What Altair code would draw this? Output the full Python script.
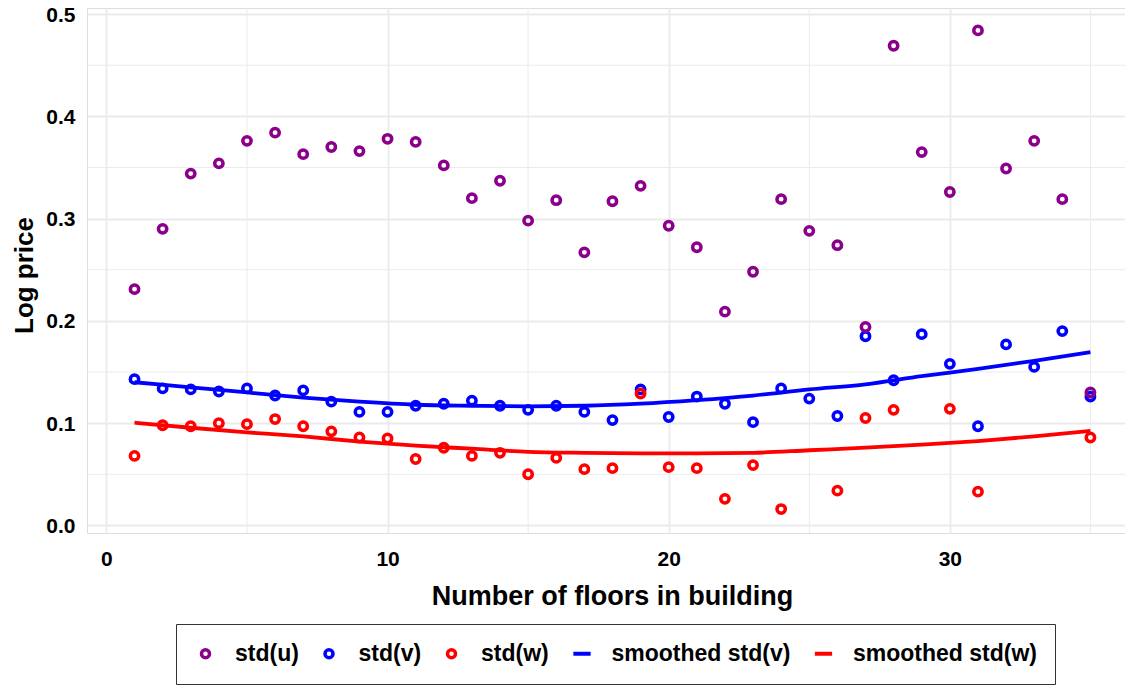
import altair as alt
import pandas as pd

# ---------------- data ----------------
floors = list(range(1, 36))
std_u = [0.231, 0.290, 0.344, 0.354, 0.376, 0.384, 0.363, 0.370, 0.366, 0.378,
         0.375, 0.352, 0.320, 0.337, 0.298, 0.318, 0.267, 0.317, 0.332, 0.293,
         0.272, 0.209, 0.248, 0.319, 0.288, 0.274, 0.194, 0.469, 0.365, 0.326,
         0.484, 0.349, 0.376, 0.319, 0.130]
std_v = [0.143, 0.134, 0.133, 0.131, 0.134, 0.127, 0.132, 0.121, 0.111, 0.111,
         0.117, 0.119, 0.122, 0.117, 0.113, 0.117, 0.111, 0.103, 0.133, 0.106,
         0.126, 0.119, 0.101, 0.134, 0.124, 0.107, 0.185, 0.142, 0.187, 0.158,
         0.097, 0.177, 0.155, 0.190, 0.126]
std_w = [0.068, 0.098, 0.097, 0.100, 0.099, 0.104, 0.097, 0.092, 0.086, 0.085,
         0.065, 0.076, 0.068, 0.071, 0.050, 0.066, 0.055, 0.056, 0.129, 0.057,
         0.056, 0.026, 0.059, 0.016, None, 0.034, 0.105, 0.113, None, 0.114,
         0.033, None, None, None, 0.086]
smooth_x = [1, 3, 5, 7, 9, 11, 13, 15, 17, 19, 21, 23, 25, 27, 29, 31, 33, 35]
smooth_v = [0.140, 0.135, 0.130, 0.125, 0.121, 0.118, 0.117, 0.1165, 0.117, 0.119,
            0.1225, 0.127, 0.133, 0.138, 0.146, 0.153, 0.161, 0.1695]
smooth_w = [0.1005, 0.0955, 0.091, 0.087, 0.082, 0.078, 0.075, 0.072, 0.071, 0.0705,
            0.0705, 0.071, 0.0735, 0.076, 0.079, 0.0825, 0.087, 0.0925]

x_ticks = [0, 10, 20, 30]
x_minor = [5, 15, 25, 35]
y_ticks = [0.0, 0.1, 0.2, 0.3, 0.4, 0.5]
y_minor = [0.05, 0.15, 0.25, 0.35, 0.45]

series_names = ["std(u)", "std(v)", "std(w)", "smoothed std(v)", "smoothed std(w)"]
series_colors = ["#8B008B", "#0000FF", "#FF0000", "#0000FF", "#FF0000"]
LINE_SYM = "M-1.72,-0.06H1.72V0.06H-1.72Z"
series_shapes = ["circle", "circle", "circle", LINE_SYM, LINE_SYM]

FONT = "Liberation Sans"

# ---------------- tables ----------------
rows = []
for name, vals in [("std(v)", std_v), ("std(w)", std_w), ("std(u)", std_u)]:
    for f, val in zip(floors, vals):
        if val is not None:
            rows.append({"floor": f, "value": val, "series": name})
points_df = pd.DataFrame(rows)

lrows = []
for name, vals in [("smoothed std(v)", smooth_v), ("smoothed std(w)", smooth_w)]:
    for f, val in zip(smooth_x, vals):
        lrows.append({"floor": f, "value": val, "series": name})
lines_df = pd.DataFrame(lrows)

xscale = alt.Scale(domain=[-0.69, 36.23], nice=False, zero=False)
yscale = alt.Scale(domain=[-0.0074, 0.5059], nice=False, zero=False)
cscale = alt.Scale(domain=series_names, range=series_colors)
sscale = alt.Scale(domain=series_names, range=series_shapes)

xaxis = alt.Axis(values=x_ticks, format="d", title="Number of floors in building",
                 grid=True, gridColor="#EBEBEB", gridWidth=1.8, domain=False, ticks=False,
                 labelFont=FONT, labelFontSize=21, labelFontWeight="bold", labelColor="black",
                 labelPadding=15, titleFont=FONT, titleFontSize=27, titleFontWeight="bold",
                 titleColor="black", titlePadding=14, titleX=525)
yaxis = alt.Axis(values=y_ticks, format=".1f", title="Log price",
                 grid=True, gridColor="#EBEBEB", gridWidth=1.8, domain=False, ticks=False,
                 labelFont=FONT, labelFontSize=21, labelFontWeight="bold", labelColor="black",
                 labelPadding=12, labelOffset=1, titleFont=FONT, titleFontSize=26,
                 titleFontWeight="bold", titleColor="black", titlePadding=8, titleY=267)

minor_h = alt.Chart(pd.DataFrame({"v": y_minor})).mark_rule(
    color="#EBEBEB", strokeWidth=1).encode(y=alt.Y("v:Q", scale=yscale, axis=yaxis))
minor_v = alt.Chart(pd.DataFrame({"f": x_minor})).mark_rule(
    color="#EBEBEB", strokeWidth=1).encode(x=alt.X("f:Q", scale=xscale, axis=xaxis))

legend = alt.Legend(title=None, orient="none", legendX=89, legendY=616,
                    direction="horizontal", labelFont=FONT, labelFontSize=23,
                    labelFontWeight="bold", labelColor="black", labelLimit=400,
                    symbolSize=64, symbolStrokeWidth=3.5, labelOffset=18,
                    columnPadding=18.5, strokeColor="#333333", padding=18)

pts = alt.Chart(points_df).mark_point(filled=False, size=70, strokeWidth=3.5, opacity=1).encode(
    x=alt.X("floor:Q", scale=xscale, axis=xaxis),
    y=alt.Y("value:Q", scale=yscale, axis=yaxis),
    color=alt.Color("series:N", scale=cscale, legend=legend, sort=series_names),
    shape=alt.Shape("series:N", scale=sscale, legend=legend, sort=series_names),
)

lines = alt.Chart(lines_df).mark_line(strokeWidth=3.8, interpolate="monotone").encode(
    x=alt.X("floor:Q", scale=xscale, axis=xaxis),
    y=alt.Y("value:Q", scale=yscale, axis=yaxis),
    color=alt.Color("series:N", scale=cscale, legend=None),
    detail="series:N",
)

chart = alt.layer(minor_h, minor_v, pts, lines).properties(
    width=1038, height=525,
    autosize=alt.AutoSizeParams(type="none"),
    padding={"left": 79, "top": 0, "right": 0, "bottom": 155},
).configure_view(stroke="transparent", strokeWidth=0).configure(background="white")

chart.save("out.html", embed_options={"renderer": "svg", "actions": False})
